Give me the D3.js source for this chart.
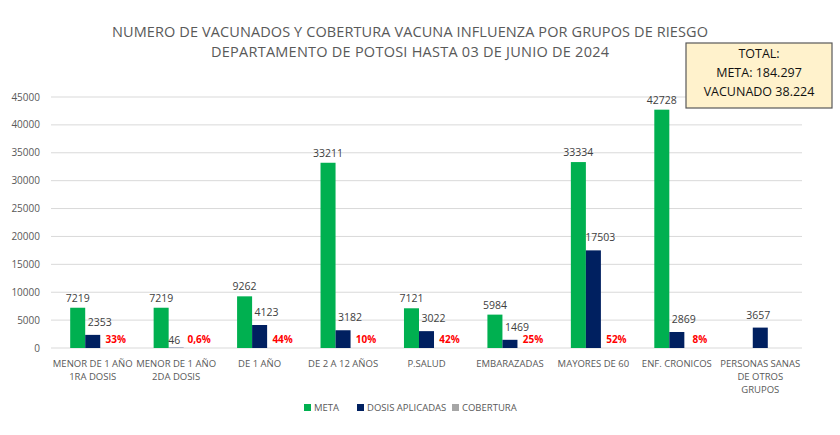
<!DOCTYPE html>
<meta charset="utf-8">
<style>
    body{ margin:0; background:#fff; }
    text{ font-family: "Open Sans", "Liberation Sans", sans-serif; }
</style>
<script src="https://d3js.org/d3.v7.min.js"></script>
<div id="chart"></div>
<script>
// data
var categories = ["MENOR DE 1 AÑO|1RA DOSIS", "MENOR DE 1 AÑO|2DA DOSIS", "DE 1 AÑO", "DE 2 A 12 AÑOS",
    "P.SALUD", "EMBARAZADAS", "MAYORES DE 60", "ENF. CRONICOS", "PERSONAS SANAS|DE OTROS|GRUPOS"];
var meta = [7219, 7219, 9262, 33211, 7121, 5984, 33334, 42728, null];
var dosis = [2353, 46, 4123, 3182, 3022, 1469, 17503, 2869, 3657];
var cobertura = ["33%", "0,6%", "44%", "10%", "42%", "25%", "52%", "8%", null];
var yTicks = [0, 5000, 10000, 15000, 20000, 25000, 30000, 35000, 40000, 45000];
var seriesNames = ["META", "DOSIS APLICADAS", "COBERTURA"];
var seriesColors = ["#00b050", "#002060", "#a6a6a6"];

var W = 840, H = 435;
var svg = d3.select("#chart").append("svg").attr("width", W).attr("height", H);

var x = d3.scaleBand().domain(d3.range(categories.length)).range([51, 802]).paddingInner(0.46).paddingOuter(0.23);
var xs = d3.scaleBand().domain([0, 1, 2]).range([0, x.bandwidth()]);
var y = d3.scaleLinear().domain([0, 45000]).range([348, 97]);

// title
svg.append("text").attr("x", 410).attr("y", 37).attr("text-anchor", "middle")
    .style("font-size", "14.5px").attr("fill", "#595959").attr("textLength", 596)
    .text("NUMERO DE VACUNADOS Y COBERTURA VACUNA INFLUENZA POR GRUPOS DE RIESGO");
svg.append("text").attr("x", 410).attr("y", 57).attr("text-anchor", "middle")
    .style("font-size", "14.5px").attr("fill", "#595959").attr("textLength", 398)
    .text("DEPARTAMENTO DE POTOSI HASTA 03 DE JUNIO DE 2024");

// grid
svg.append("g").selectAll("line").data(yTicks).join("line")
    .attr("x1", 51).attr("x2", 802)
    .attr("y1", d => y(d)).attr("y2", d => y(d))
    .attr("stroke", "#d9d9d9").attr("stroke-width", 1);

svg.append("g").selectAll("text").data(yTicks).join("text")
    .attr("x", 40).attr("y", d => y(d) + 3.5).attr("text-anchor", "end")
    .style("font-size", "10px").attr("fill", "#595959")
    .text(d => d);

// bars + labels
categories.forEach(function(c, i){
    var g = svg.append("g").attr("transform", `translate(${x(i)},0)`);
    if(meta[i] != null){
        g.append("rect").attr("x", xs(0)).attr("width", xs.bandwidth())
            .attr("y", y(meta[i])).attr("height", y(0) - y(meta[i])).attr("fill", seriesColors[0]);
        g.append("text").attr("x", xs(0) + xs.bandwidth()/2).attr("y", y(meta[i]) - 6)
            .attr("text-anchor", "middle").style("font-size", "10.5px").attr("fill", "#404040").text(meta[i]);
    }
    g.append("rect").attr("x", xs(1)).attr("width", xs.bandwidth())
        .attr("y", y(dosis[i])).attr("height", y(0) - y(dosis[i])).attr("fill", seriesColors[1]);
    var small = dosis[i] < 200;
    var shift = (small || meta[i] == null) ? -2 : 7;
    g.append("text").attr("x", xs(1) + xs.bandwidth()/2 + shift).attr("y", small ? 344 : y(dosis[i]) - 9)
        .attr("text-anchor", "middle").style("font-size", "10.5px").attr("fill", "#404040").text(dosis[i]);
    if(cobertura[i] != null){
        g.append("text").attr("x", xs(2) + xs.bandwidth()/2 + 8).attr("y", 343)
            .attr("text-anchor", "middle").style("font-size", "10px").style("font-weight", "bold")
            .attr("fill", "#ff0000").text(cobertura[i]);
    }
    // category label
    var lines = c.split("|");
    var t = svg.append("text").attr("x", x(i) + x.bandwidth()/2).attr("y", 367)
        .attr("text-anchor", "middle").style("font-size", "9.5px").attr("fill", "#595959");
    lines.forEach(function(l, k){
        t.append("tspan").attr("x", x(i) + x.bandwidth()/2).attr("dy", k ? 13 : 0).text(l);
    });
});

// legend
var legX = [304, 357, 452];
seriesNames.forEach(function(n, i){
    svg.append("rect").attr("x", legX[i]).attr("y", 404).attr("width", 7).attr("height", 7).attr("fill", seriesColors[i]);
    svg.append("text").attr("x", legX[i] + 10).attr("y", 411).style("font-size", "9.5px").attr("fill", "#595959").text(n);
});

// total box
svg.append("rect").attr("x", 686).attr("y", 43).attr("width", 146).attr("height", 65)
    .attr("fill", "#fff2cc").attr("stroke", "#595959").attr("stroke-width", 1.2);
var totals = ["TOTAL:", "META: 184.297", "VACUNADO 38.224"];
totals.forEach(function(s, i){
    svg.append("text").attr("x", 759).attr("y", 58 + i * 19).attr("text-anchor", "middle")
        .style("font-size", "12.5px").attr("fill", "#111").text(s);
});
</script>
